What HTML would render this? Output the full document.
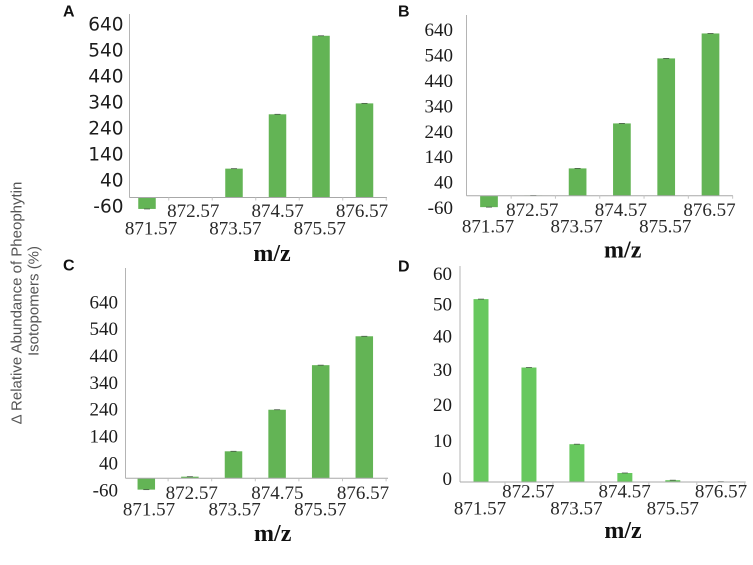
<!DOCTYPE html>
<html lang="en">
<head>
<meta charset="utf-8">
<title>Relative abundance of pheophytin isotopomers</title>
<style>
html,body{margin:0;padding:0;background:#fff;}
body{width:753px;height:565px;overflow:hidden;}
svg{display:block;}
</style>
</head>
<body>
<svg id="figure" xmlns="http://www.w3.org/2000/svg" width="753" height="565" viewBox="0 0 753 565">
  <rect x="0" y="0" width="753" height="565" fill="#ffffff"/>
  <g font-family="'Liberation Sans', sans-serif" font-size="15" fill="#555555" text-anchor="middle">
    <text transform="translate(17 303) rotate(-90)" dominant-baseline="central">Δ Relative Abundance of Pheophytin</text>
    <text transform="translate(34 301) rotate(-90)" dominant-baseline="central">Isotopomers (%)</text>
  </g>
</svg>
<script>
const categoriesA = ['871.57', '872.57', '873.57', '874.57', '875.57', '876.57'];
const categoriesB = ['871.57', '872.57', '873.57', '874.57', '875.57', '876.57'];
const categoriesC = ['871.57', '872.57', '873.57', '874.75', '875.57', '876.57'];
const categoriesD = ['871.57', '872.57', '873.57', '874.57', '875.57', '876.57'];

const valuesA = [-44, 0, 111, 320, 622, 362];
const valuesB = [-44, 1, 105, 278, 528, 624];
const valuesC = [-42, 6, 100, 254, 419, 526];
const valuesD = [50.8, 31.8, 10.5, 2.5, 0.5, 0.1];

const ticksA = [-60, 40, 140, 240, 340, 440, 540, 640];
const ticksB = [-60, 40, 140, 240, 340, 440, 540, 640];
const ticksC = [-60, 40, 140, 240, 340, 440, 540, 640];
const ticksD = [0, 10, 20, 30, 40, 50, 60];

const NS = 'http://www.w3.org/2000/svg';
const figure = document.getElementById('figure');

function make(parent, tag, attrs, text) {
  const node = document.createElementNS(NS, tag);
  for (const key in attrs) node.setAttribute(key, attrs[key]);
  if (text !== undefined) node.textContent = text;
  parent.appendChild(node);
  return node;
}

function drawPanel(p) {
  const yScale = v => p.zeroY - v * p.pxPerUnit;
  const xScale = i => p.barX0 + i * p.barStep;
  const tickLabelY = v => p.labelZeroY - v * p.labelPxPerUnit - v * v * p.labelCurve;
  const catLabelX = i => p.catX0 + i * p.catStep;

  const group = make(figure, 'g', {});
  
  

  const letter = make(group, 'text', {
    x: p.letterX, y: p.letterY, 'font-family': "'Liberation Sans', sans-serif",
    'font-size': 16, 'font-weight': 'bold', fill: '#111111', 'dominant-baseline': 'central'
  }, p.id.toUpperCase());
  
  

  p.values.forEach((value, i) => {
    const yTop = Math.min(yScale(value), p.zeroY);
    const h = Math.abs(yScale(value) - p.zeroY);
    const bar = make(group, 'rect', {
      x: xScale(i) - p.barWidth / 2, y: yTop, width: p.barWidth, height: Math.max(h, 0.3), fill: p.barColor
    });
    
    

    const capY = yScale(value);
    const cap = make(group, 'line', {
      x1: xScale(i) - 3, x2: xScale(i) + 3, y1: capY, y2: capY, stroke: '#4a5a48', 'stroke-width': 0.8
    });
    
    
  });

  const yAxis = make(group, 'line', {
    x1: p.axisX, x2: p.axisX, y1: p.axisTop, y2: p.zeroY, stroke: '#b4b4b4', 'stroke-width': 1
  });
  
  

  const xAxis = make(group, 'line', {
    x1: p.axisX, x2: p.axisRight, y1: p.zeroY, y2: p.zeroY, stroke: '#a8a8a8', 'stroke-width': 1
  });
  
  

  p.categories.forEach((label, i) => {
    const tx = xScale(i) + p.barStep / 2;
    if (tx < p.axisRight) {
      const tick = make(group, 'line', {
        x1: tx, x2: tx, y1: p.zeroY, y2: p.zeroY + 3, stroke: '#c4c4c4', 'stroke-width': 1
      });
      
      
    }
    const lab = make(group, 'text', {
      x: catLabelX(i), y: i % 2 ? p.catUpperY : p.catLowerY,
      'font-family': "'Liberation Serif', serif", 'font-size': 19, fill: '#2a2a2a',
      'text-anchor': 'middle', 'dominant-baseline': 'central'
    }, label);
    
    
  });

  p.ticks.forEach(v => {
    const lab = make(group, 'text', {
      x: p.tickRight, y: tickLabelY(v),
      'font-family': p.tickFont, 'font-size': p.tickSize, fill: '#1c1c1c',
      'text-anchor': 'end', 'dominant-baseline': 'central'
    }, String(v));
    
    
  });

  const title = make(group, 'text', {
    x: p.titleX, y: p.titleY, 'font-family': "'Liberation Serif', serif",
    'font-size': 24, 'font-weight': 'bold', fill: '#111111',
    'text-anchor': 'middle', 'dominant-baseline': 'central'
  }, 'm/z');
  
  
}

const serif = "'Liberation Serif', serif";
const sans = "'DejaVu Sans', sans-serif";

drawPanel({
  id: 'a', categories: categoriesA, values: valuesA, ticks: ticksA,
  zeroY: 197.5, pxPerUnit: 0.26, barX0: 147, barStep: 43.5, barWidth: 17.5, barColor: '#63b455',
  axisX: 129.5, axisTop: 14, axisRight: 387,
  labelZeroY: 191.4, labelPxPerUnit: 0.26, labelCurve: 0, tickRight: 123.5, tickFont: sans, tickSize: 18.5,
  catX0: 151, catStep: 42.2, catUpperY: 211.5, catLowerY: 229,
  titleX: 272, titleY: 254, letterX: 63, letterY: 12
});
drawPanel({
  id: 'b', categories: categoriesB, values: valuesB, ticks: ticksB,
  zeroY: 195.7, pxPerUnit: 0.26, barX0: 489, barStep: 44.3, barWidth: 17.7, barColor: '#63b455',
  axisX: 466.5, axisTop: 15, axisRight: 733,
  labelZeroY: 193.3, labelPxPerUnit: 0.254, labelCurve: 0, tickRight: 453, tickFont: serif, tickSize: 19,
  catX0: 488, catStep: 44.3, catUpperY: 210.7, catLowerY: 227,
  titleX: 622.7, titleY: 250.7, letterX: 398, letterY: 12
});
drawPanel({
  id: 'c', categories: categoriesC, values: valuesC, ticks: ticksC,
  zeroY: 478.3, pxPerUnit: 0.27, barX0: 146.3, barStep: 43.6, barWidth: 17.5, barColor: '#63b455',
  axisX: 125.5, axisTop: 268, axisRight: 388,
  labelZeroY: 474.7, labelPxPerUnit: 0.2686, labelCurve: 0, tickRight: 118, tickFont: serif, tickSize: 19,
  catX0: 149, catStep: 42.8, catUpperY: 493.5, catLowerY: 510,
  titleX: 272.7, titleY: 534, letterX: 63, letterY: 266
});
drawPanel({
  id: 'd', categories: categoriesD, values: valuesD, ticks: ticksD,
  zeroY: 482, pxPerUnit: 3.6, barX0: 481, barStep: 47.95, barWidth: 15, barColor: '#67c85e',
  axisX: 460, axisTop: 266, axisRight: 745.7,
  labelZeroY: 479.5, labelPxPerUnit: 3.85, labelCurve: -0.00722, tickRight: 452, tickFont: serif, tickSize: 19,
  catX0: 480, catStep: 48.2, catUpperY: 492, catLowerY: 509,
  titleX: 623, titleY: 531, letterX: 398, letterY: 267
});
</script>
</body>
</html>
